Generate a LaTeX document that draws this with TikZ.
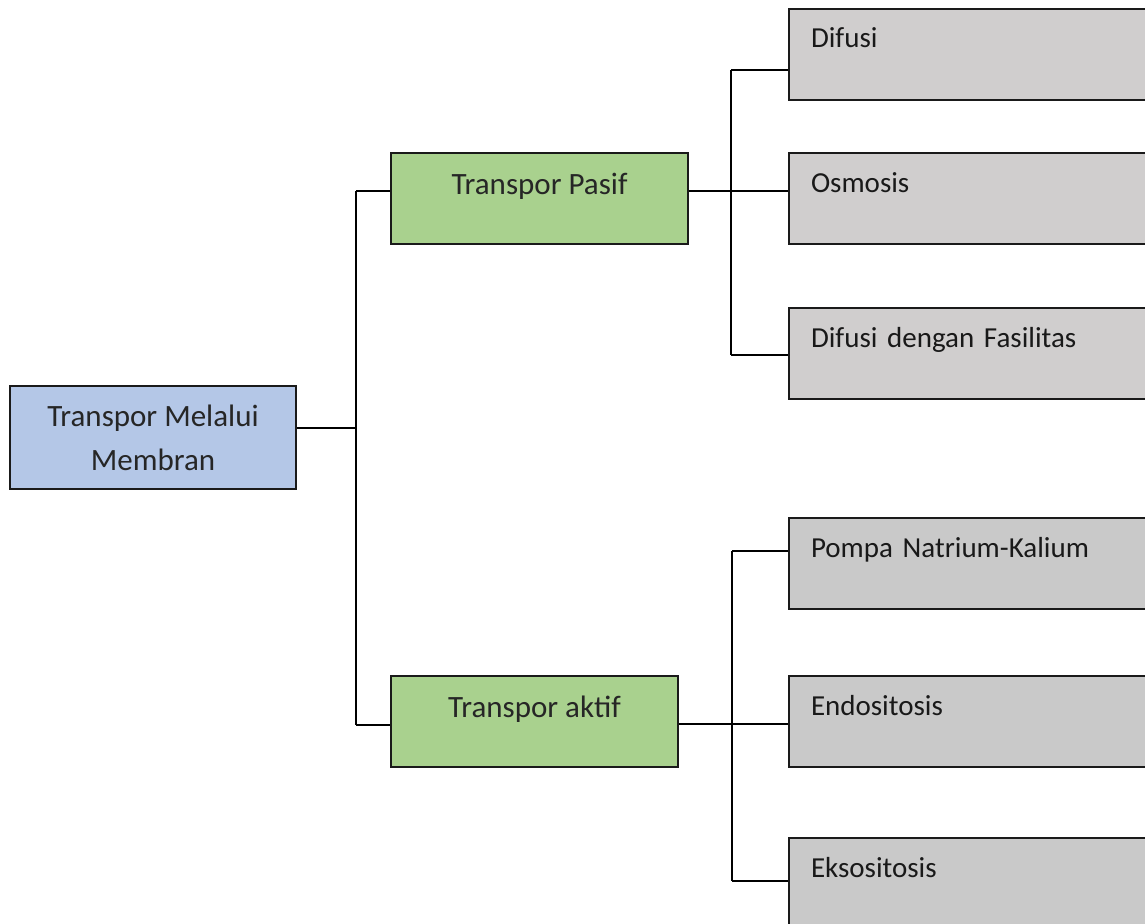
\documentclass[tikz,border=0pt]{standalone}
\usepackage{fontspec}
\setmainfont{Carlito}
\definecolor{rootfill}{HTML}{B4C7E7}
\definecolor{greenfill}{HTML}{A9D18E}
\definecolor{grayA}{HTML}{D0CECE}
\definecolor{grayB}{HTML}{C9C9C9}
\definecolor{edge}{HTML}{1A1A1A}
\begin{document}
\begin{tikzpicture}[x=1pt,y=-1pt,
  box/.style={draw=edge,line width=2pt,rectangle,anchor=north west,inner sep=0pt},
  rootbox/.style={box,fill=rootfill,minimum width=286pt,minimum height=103pt,
    align=center,font=\fontsize{31}{45}\selectfont,text=black!85},
  midbox/.style={box,fill=greenfill,minimum height=91pt,
    text height=41pt,text depth=50pt,font=\fontsize{31}{37}\selectfont,text=black!85},
  leafbox/.style={box,minimum width=380pt,minimum height=91pt,
    inner xsep=22pt,text width=336pt,align=left,
    text height=39pt,text depth=52pt,font=\fontsize{29}{35}\selectfont,text=black!90},
  conn/.style={draw=black,line width=1.5pt}]
\useasboundingbox (0,0) rectangle (1145,923);

\node[rootbox] (root) at (9,385) {Transpor Melalui\\[-1pt]Membran};

\node[midbox,minimum width=297pt] (pasif) at (390,152) {Transpor Pasif};
\node[midbox,minimum width=287pt] (aktif) at (390,675) {Transpor aktif};

\node[leafbox,fill=grayA] (difusi) at (788,8) {Difusi};
\node[leafbox,fill=grayA] (osmosis) at (788,152) {Osmosis};
\node[leafbox,fill=grayA] (fasil) at (788,307) {Difusi dengan Fasilitas};
\node[leafbox,fill=grayB] (pompa) at (788,517) {Pompa Natrium-Kalium};
\node[leafbox,fill=grayB] (endo) at (788,675) {Endositosis};
\node[leafbox,fill=grayB] (ekso) at (788,837) {Eksositosis};

% level 1 connectors
\coordinate (j1) at (356,428);
\coordinate (j1t) at (356,191);
\coordinate (j1b) at (356,725);
\draw[conn] (j1 -| root.east) -- (j1);
\draw[conn] (j1t) -- (j1b);
\draw[conn] (j1t) -- (j1t -| pasif.west);
\draw[conn] (j1b) -- (j1b -| aktif.west);

% passive branch
\coordinate (j2) at (731,191);
\coordinate (j2t) at (731,70);
\coordinate (j2b) at (731,355);
\draw[conn] (j2 -| pasif.east) -- (j2 -| osmosis.west);
\draw[conn] (j2t) -- (j2b);
\draw[conn] (j2t) -- (j2t -| difusi.west);
\draw[conn] (j2b) -- (j2b -| fasil.west);

% active branch
\coordinate (j3) at (732,724);
\coordinate (j3t) at (732,551);
\coordinate (j3b) at (732,881);
\draw[conn] (j3 -| aktif.east) -- (j3 -| endo.west);
\draw[conn] (j3t) -- (j3b);
\draw[conn] (j3t) -- (j3t -| pompa.west);
\draw[conn] (j3b) -- (j3b -| ekso.west);
\end{tikzpicture}
\end{document}
